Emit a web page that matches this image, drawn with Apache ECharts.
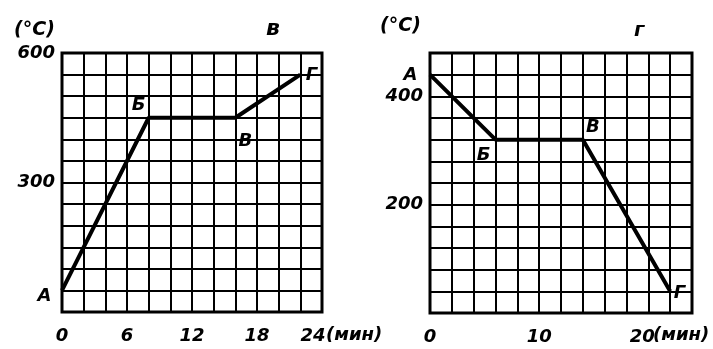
<!DOCTYPE html>
<html>
<head>
<meta charset="utf-8">
<title>Нагрев и охлаждение</title>
<script src="https://cdn.jsdelivr.net/npm/echarts@6/dist/echarts.min.js"></script>
<style>
  body, #chart { margin: 0; padding: 0; background: #fff; }
  #chart { width: 713px; height: 349px; }
</style>
</head>
<body>
<div id="chart"></div>
<script>
// chart в: heating
var timesB = [0, 8, 16, 22];
var tempsB = [50, 450, 450, 550];
var namesB = ['А', 'Б', 'В', 'Г'];
var xLabelsB = [0, 6, 12, 18, 24];
var yLabelsB = [300, 600];

// chart г: cooling
var timesG = [0, 6, 14, 22];
var tempsG = [440, 320, 320, 40];
var namesG = ['А', 'Б', 'В', 'Г'];
var xLabelsG = [0, 10, 20];
var yLabelsG = [200, 400];

var font = "'DejaVu Sans', sans-serif";
var txt = { color: '#000', fontFamily: font, fontStyle: 'italic', fontWeight: 'bold', fontSize: 18 };

// the last labelled minute gets "(мин)" after it, so it sits a bit to the left
function pick(list, unitAt) {
    return function (v) {
        if (list.indexOf(v) < 0) return '';
        return v === unitAt ? '{u|' + v + '}' : String(v);
    };
}

function xAxis(idx, labels, unitAt, shift) {
    return {
        type: 'value', gridIndex: idx, min: 0, max: 24, interval: 2,
        axisLine: { show: false },
        axisTick: { show: false },
        splitLine: { show: true, lineStyle: { color: '#000', width: 2 } },
        axisLabel: Object.assign({
            formatter: pick(labels, unitAt), margin: 15, showMinLabel: true, showMaxLabel: true,
            rich: { u: Object.assign({ padding: [0, shift, 0, 0] }, txt) }
        }, txt)
    };
}

function yAxis(idx, max, step, labels) {
    return {
        type: 'value', gridIndex: idx, min: 0, max: max, interval: step,
        axisLine: { show: false },
        axisTick: { show: false },
        splitLine: { show: true, lineStyle: { color: '#000', width: 2 } },
        axisLabel: Object.assign({ formatter: pick(labels), margin: 7, showMaxLabel: true }, txt)
    };
}

var labelPosB = [
    { position: 'left', offset: [-5, 6] },
    { position: 'top', offset: [-10, 2] },
    { position: 'bottom', offset: [10, 9] },
    { position: 'right', offset: [0, 1] }
];
var labelPosG = [
    { position: 'left', offset: [-7, 1] },
    { position: 'bottom', offset: [-12, 1] },
    { position: 'top', offset: [10, 2] },
    { position: 'right', offset: [-2, 2] }
];

function points(times, temps, names, pos) {
    return times.map(function (t, i) {
        return {
            value: [t, temps[i]],
            label: Object.assign({ show: true, formatter: names[i] }, txt, pos[i])
        };
    });
}

function line(idx, times, temps, names, pos) {
    return {
        type: 'line', xAxisIndex: idx, yAxisIndex: idx,
        data: points(times, temps, names, pos),
        symbol: 'circle', symbolSize: 1, showSymbol: true,
        itemStyle: { color: '#000' },
        silent: true, animation: false,
        lineStyle: { color: '#000', width: 4 }
    };
}

var chart = echarts.init(document.getElementById('chart'));
chart.setOption({
    backgroundColor: '#fff',
    animation: false,
    grid: [
        { left: 62, top: 53, width: 260, height: 259, show: true, borderColor: '#000', borderWidth: 3 },
        { left: 430, top: 53, width: 262, height: 260, show: true, borderColor: '#000', borderWidth: 3 }
    ],
    xAxis: [xAxis(0, xLabelsB, 24, 18), xAxis(1, xLabelsG, 20, 12)],
    yAxis: [yAxis(0, 600, 50, yLabelsB), yAxis(1, 480, 40, yLabelsG)],
    series: [
        line(0, timesB, tempsB, namesB, labelPosB),
        line(1, timesG, tempsG, namesG, labelPosG)
    ],
    graphic: [
        { type: 'text', left: 14, top: 21, style: Object.assign({}, txt, { text: '(°C)', fontSize: 19 }) },
        { type: 'text', left: 266, top: 18, style: Object.assign({}, txt, { text: 'в', fontSize: 22 }) },
        { type: 'text', left: 326, top: 326, style: Object.assign({ text: '(мин)' }, txt) },
        { type: 'text', left: 380, top: 17, style: Object.assign({}, txt, { text: '(°C)', fontSize: 19 }) },
        { type: 'text', left: 634, top: 21, style: Object.assign({}, txt, { text: 'г', fontSize: 20 }) },
        { type: 'text', left: 653, top: 326, style: Object.assign({ text: '(мин)' }, txt) }
    ]
});
</script>
</body>
</html>
